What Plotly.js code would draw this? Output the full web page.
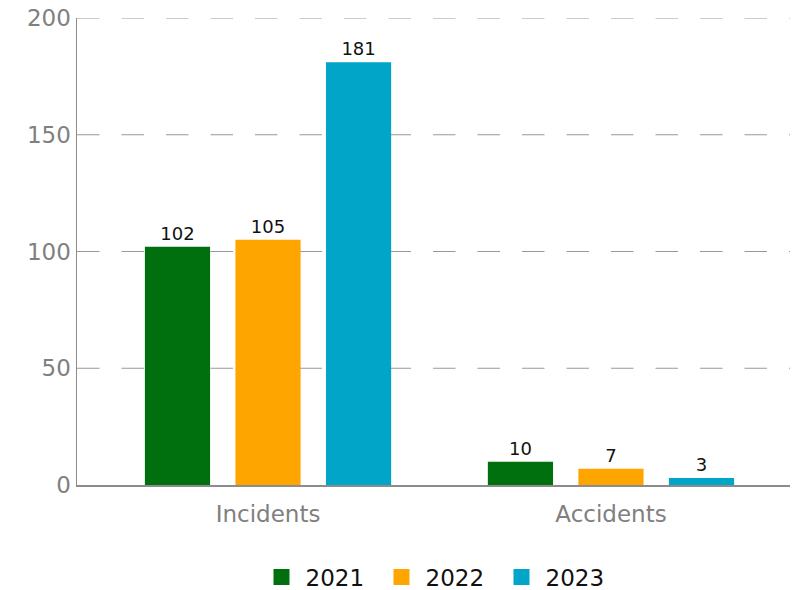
<!DOCTYPE html>
<html><head><meta charset="utf-8">
<script src="https://cdn.plot.ly/plotly-3.0.1.min.js"></script>
<style>html,body{margin:0;padding:0;background:#fff}#c{width:793px;height:590px}</style>
</head><body><div id="c"></div>
<script>
const categories = ["Incidents", "Accidents"];
const years = ["2021", "2022", "2023"];
const v2021 = [102, 10];
const v2022 = [105, 7];
const v2023 = [181, 3];
const gridValues = [50, 100, 150, 200];
const colors = ["#00700f", "#ffa500", "#00a5c8"];
const series = [v2021, v2022, v2023];
const FONT = "'DejaVu Sans', sans-serif";

const traces = series.map((vals, i) => ({
  type: "bar", x: categories, y: vals, name: years[i],
  marker: {color: colors[i]}, text: vals.map(String), textposition: "outside",
  textfont: {color: "#111", size: 18, family: FONT},
  cliponaxis: false, showlegend: false
}));
years.forEach((y, i) => traces.push({
  type: "scatter", mode: "markers", x: [null], y: [null], name: y,
  marker: {symbol: "square", size: 23, color: colors[i]}, showlegend: true
}));

const shapes = gridValues.map(v => ({
  type: "line", xref: "paper", x0: 0, x1: 1, yref: "y", y0: v, y1: v, layer: "below",
  line: {color: "#999999", width: 1, dash: "22.5px,22px"}
}));

const layout = {
  width: 793, height: 590,
  margin: {l: 77, r: 3, t: 18, b: 105, autoexpand: false},
  paper_bgcolor: "#fff", plot_bgcolor: "#fff",
  font: {family: FONT, color: "#808080", size: 21},
  barmode: "group", bargap: 0.208, bargroupgap: 0.28,
  shapes: shapes,
  xaxis: {type: "category", range: [-0.557, 1.522], showline: true, linecolor: "#8c8c8c", linewidth: 1.5,
    showgrid: false, ticks: "", tickfont: {size: 23, color: "#808080"}, zeroline: false, ticklabelstandoff: 8},
  yaxis: {range: [0, 200], dtick: 50, showline: true, linecolor: "#8c8c8c", linewidth: 1.5,
    showgrid: false, ticks: "", tickfont: {size: 23, color: "#808080"}, zeroline: false},
  legend: {orientation: "h", x: 0.5056, xanchor: "center", yref: "container", y: 0.022, yanchor: "middle",
    font: {size: 23, color: "#111"}, itemwidth: 38, entrywidth: 67},
  showlegend: true
};
Plotly.newPlot("c", traces, layout, {displayModeBar: false, staticPlot: true});
</script></body></html>
